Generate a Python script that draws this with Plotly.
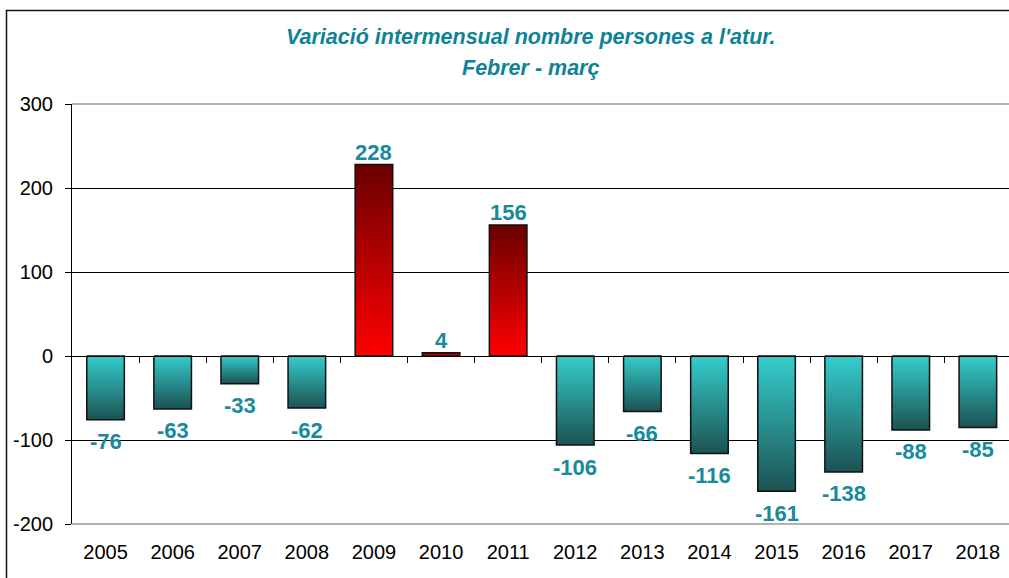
import plotly.graph_objects as go

# ---- data ----
years = ["2005", "2006", "2007", "2008", "2009", "2010", "2011",
         "2012", "2013", "2014", "2015", "2016", "2017", "2018"]
values = [-76, -63, -33, -62, 228, 4, 156, -106, -66, -116, -161, -138, -88, -85]
y_ticks = [-200, -100, 0, 100, 200, 300]
y_tick_text = ["-200", "-100", "0", "100", "200", "300"]
title_line1 = "Variació intermensual nombre persones a l'atur."
title_line2 = "Febrer - març"

# ---- style ----
FONT = "Liberation Sans, Arial, sans-serif"
LABEL_COLOR = "#178A9B"
TITLE_COLOR = "#0E8297"
HALF_W = 0.28
NEG_SCALE = [[0, "#1C5252"], [1, "#35CDCD"]]
POS_SCALE = [[0, "#FF0000"], [1, "#6A0000"]]

W, H = 1009, 578
L, R, T, B = 72, 0, 104, 54
pw, ph = W - L - R, H - T - B
step_px = 67.1
x_range = [-0.5, -0.5 + pw / step_px]
y_range = [-200, 300]

fig = go.Figure()

for i, v in enumerate(values):
    xs = [i - HALF_W, i - HALF_W, i + HALF_W, i + HALF_W, i - HALF_W]
    ys = [0, v, v, 0, 0]
    fig.add_trace(go.Scatter(
        x=xs, y=ys, mode="lines", fill="toself",
        line=dict(color="#111111", width=1.5),
        fillgradient=dict(type="vertical",
                          colorscale=POS_SCALE if v > 0 else NEG_SCALE),
        hoverinfo="skip", showlegend=False,
    ))

annotations = []
for i, v in enumerate(values):
    annotations.append(dict(
        x=i, y=v, xref="x", yref="y", text=f"<b>{v}</b>", showarrow=False,
        yanchor="middle", xanchor="center", yshift=12 if v > 0 else -22,
        font=dict(family=FONT, size=22, color=LABEL_COLOR),
    ))

def px_to_paper_x(px):
    return (px - L) / pw

def px_to_paper_y(py):
    return (H - B - py) / ph

annotations.append(dict(
    x=px_to_paper_x(530), y=px_to_paper_y(37), xref="paper", yref="paper",
    text=f"<b><i>{title_line1}</i></b>", showarrow=False,
    xanchor="center", yanchor="middle",
    font=dict(family=FONT, size=21.5, color=TITLE_COLOR)))
annotations.append(dict(
    x=px_to_paper_x(530), y=px_to_paper_y(68), xref="paper", yref="paper",
    text=f"<b><i>{title_line2}</i></b>", showarrow=False,
    xanchor="center", yanchor="middle",
    font=dict(family=FONT, size=21.5, color=TITLE_COLOR)))

shapes = [
    # plot-area frame (top / bottom grey lines)
    dict(type="line", xref="paper", yref="paper", x0=0, x1=1, y0=1, y1=1,
         line=dict(color="#999999", width=1.5), layer="above"),
    dict(type="line", xref="paper", yref="paper", x0=0, x1=1, y0=0, y1=0,
         line=dict(color="#999999", width=1.5), layer="above"),
    # outer chart border
    dict(type="rect", xref="paper", yref="paper",
         x0=px_to_paper_x(6.5), x1=1.1, y0=-0.3, y1=px_to_paper_y(10.5),
         line=dict(color="#111111", width=1.5), fillcolor="rgba(0,0,0,0)",
         layer="above"),
]

zero_pos = (0 - y_range[0]) / (y_range[1] - y_range[0])

fig.update_layout(
    width=W, height=H,
    margin=dict(l=L, r=R, t=T, b=B, autoexpand=False),
    paper_bgcolor="white", plot_bgcolor="white",
    showlegend=False,
    font=dict(family=FONT, size=20, color="black"),
    xaxis=dict(
        domain=[0, 1], range=x_range, tickmode="array",
        tickvals=list(range(len(years))), ticktext=years,
        showgrid=False, zeroline=False, showline=False, ticks="",
        tickfont=dict(family=FONT, size=20, color="black"),
        ticklabelstandoff=14, fixedrange=True,
    ),
    xaxis2=dict(
        overlaying="x", anchor="free", position=zero_pos, range=x_range,
        tickmode="array", tickvals=[i + 0.5 for i in range(len(years) - 1)],
        ticks="outside", ticklen=6, tickwidth=1, tickcolor="black",
        showticklabels=False, showline=True, linecolor="black", linewidth=1,
        showgrid=False, zeroline=False, fixedrange=True,
    ),
    yaxis=dict(
        domain=[0, 1], range=y_range, tickmode="array", tickvals=y_ticks,
        ticktext=y_tick_text,
        showgrid=True, gridcolor="black", gridwidth=1,
        zeroline=True, zerolinecolor="black", zerolinewidth=1,
        showline=True, linecolor="black", linewidth=1,
        ticks="outside", ticklen=6, tickcolor="black",
        tickfont=dict(family=FONT, size=20, color="black"),
        ticklabelstandoff=8, fixedrange=True,
    ),
    annotations=annotations,
    shapes=shapes,
)

# invisible helper trace so the zero-line tick axis is rendered
fig.add_trace(go.Scatter(x=[0], y=[0], xaxis="x2", mode="markers",
                         marker=dict(opacity=0), hoverinfo="skip",
                         showlegend=False))

fig.write_html("out.html",
               config={"displayModeBar": False},
               post_script="document.body.style.margin='0';"
                           "document.body.style.overflow='hidden';")
